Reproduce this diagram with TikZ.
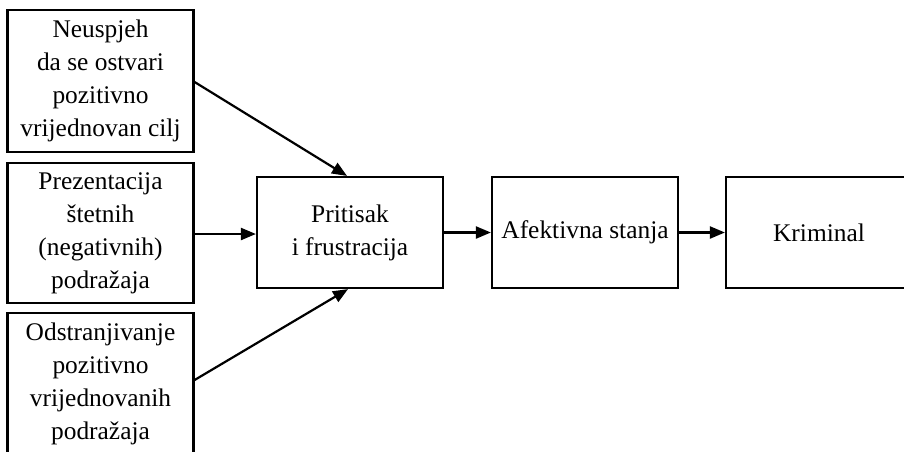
\documentclass[tikz,border=0pt]{standalone}
\usepackage{fontspec}
\setmainfont{Liberation Serif}
\usepackage{tikz}
\usetikzlibrary{arrows.meta,positioning,calc}

\begin{document}
\begin{tikzpicture}[x = .5pt, y = -.5pt,
  box/.style = {draw, line width = 1.1pt, inner sep = 0pt, align = center,
    minimum width = 93pt, font = \fontsize{12.7}{16.5}\selectfont},
  arr/.style = {line width = 1.1pt, -{Triangle[length = 7.5pt, width = 6pt]}}]
\useasboundingbox (0,0) rectangle (904,451);
\clip (0,0) rectangle (904,451);
% left column
\node[box, minimum height = 71pt] (neusp) at (100.5,81) {Neuspjeh\\da se ostvari\\pozitivno\\vrijednovan cilj};
\node[box, minimum height = 70pt] (prez) at (100.5,233) {Prezentacija\\štetnih\\(negativnih)\\podražaja};
\node[box, minimum height = 70.5pt] (odstr) at (100.5,383.5) {Odstranjivanje\\pozitivno\\vrijednovanih\\podražaja};
% chain
\node[box, minimum height = 55.5pt] (prit) at (350,232.5) {Pritisak\\i frustracija};
\node[box, minimum height = 55.5pt] (afekt) at (585,232.5) {Afektivna stanja};
\node[box, minimum height = 55.5pt] (krim) at (819,232.5) {Kriminal};
\draw[arr] (neusp.east |- 0,82) -- (prit.north -| 347,0);
\draw[arr] (prez.east |- 0,234) -- (prit.west |- 0,234);
\draw[arr] (odstr.east |- 0,380) -- (prit.south -| 348,0);
\draw[arr] (prit) -- (afekt);
\draw[arr] (afekt) -- (krim);
\end{tikzpicture}
\end{document}
